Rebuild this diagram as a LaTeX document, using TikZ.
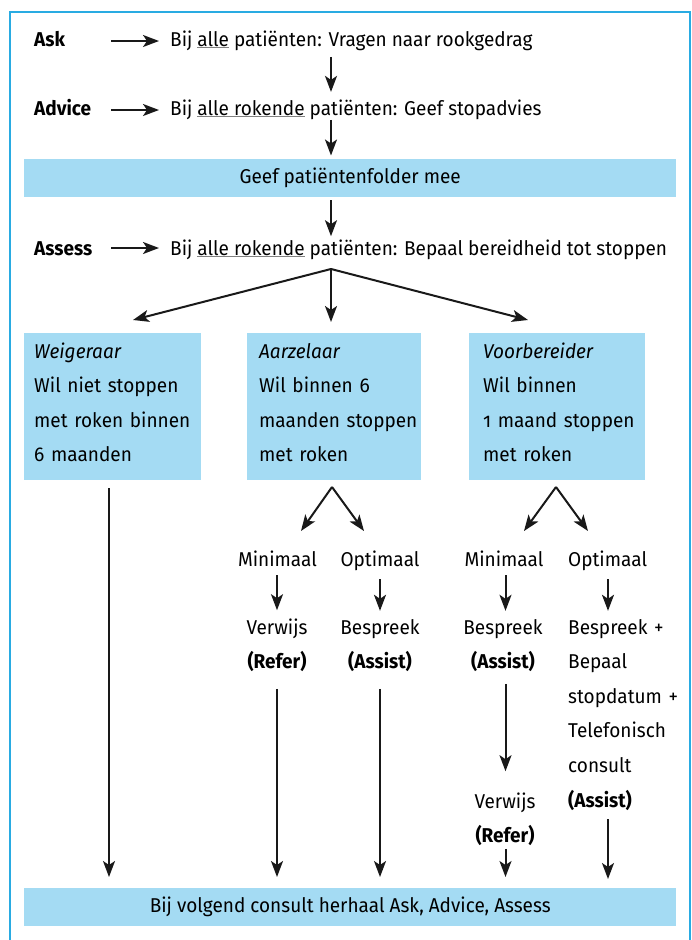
\documentclass[tikz,border=0pt]{standalone}
\usepackage{fontspec}
\setmainfont[Numbers=OldStyle, FakeStretch=0.95]{Fira Sans}
\usetikzlibrary{arrows.meta}
\definecolor{boxblue}{HTML}{A4DBF3}
\definecolor{frameblue}{HTML}{29ABE2}
\newcommand\ulx[1]{\textcolor{gray}{\underline{\textcolor{black}{#1}}}}
\begin{document}
\begin{tikzpicture}[x=1pt,y=-1pt,
  txt/.style={font=\fontsize{20}{34.6}\selectfont, inner sep=0pt},
  lbl/.style={txt, font=\fontsize{20}{34.6}\selectfont\bfseries, anchor=base west},
  line/.style={txt, anchor=base west},
  arr/.style={-{Stealth[length=16pt,width=12pt,inset=4pt]}, line width=2pt, draw=black!90},
  band/.style={txt, fill=boxblue, minimum width=652pt, minimum height=38pt, anchor=north west},
  catbox/.style={fill=boxblue, inner sep=0pt, minimum height=147pt, anchor=north west},
  boxtxt/.style={txt, anchor=base west, text width=165pt, align=left},
  pair/.style={txt, anchor=base, text width=90pt, align=center},
  word/.style={txt, anchor=base}]
\useasboundingbox (0,0) rectangle (691,940);
\draw[frameblue, line width=1.5pt] (10,940) -- (10,12) -- (690,12) -- (690,940);

% top rows
\node[lbl] (ask) at (34,46) {Ask};
\node[line] (askt) at (170,46) {Bij \ulx{alle} patiënten: Vragen naar rookgedrag};
\node[lbl] (adv) at (34,115) {Advice};
\node[line] (advt) at (170,115) {Bij \ulx{alle rokende} patiënten: Geef stopadvies};
\node[band] (folder) at (24,159) {Geef patiëntenfolder mee};
\node[lbl] (ass) at (34,255) {Assess};
\node[line] (asst) at (170,255) {Bij \ulx{alle rokende} patiënten: Bepaal bereidheid tot stoppen};

\coordinate (cx) at (331,0);
\coordinate (h1) at (111,41);
\coordinate (h2) at (111,110);
\coordinate (h3) at (111,248);
\draw[arr, shorten >=11pt] (h1) -- (h1 -| askt.west);
\draw[arr, shorten >=11pt] (h2) -- (h2 -| advt.west);
\draw[arr, shorten >=11pt] (h3) -- (h3 -| asst.west);
\draw[arr, shorten <=6.5pt, shorten >=7.3pt] (askt.south -| cx) -- (advt.north -| cx);
\draw[arr, shorten <=0.5pt, shorten >=3.5pt] (advt.south -| cx) -- (folder.north -| cx);
\draw[arr, shorten <=3pt, shorten >=3pt] (folder.south -| cx) -- (asst.north -| cx);

% category boxes
\node[catbox, minimum width=177pt] (b1) at (24,333) {};
\node[catbox, minimum width=174pt] (b2) at (247,333) {};
\node[catbox, minimum width=176pt] (b3) at (469,333) {};
\node[boxtxt] (t1) at (34,358) {\textit{Weigeraar}\\Wil niet stoppen\\met roken binnen\\6 maanden};
\node[boxtxt] (t2) at (259,358) {\textit{Aarzelaar}\\Wil binnen 6\\maanden stoppen\\met roken};
\node[boxtxt] (t3) at (483,358) {\textit{Voorbereider}\\Wil binnen\\1 maand stoppen\\met roken};

\coordinate (ap) at (331,269);
\coordinate (e1) at (133,320);
\coordinate (e2) at (331,322);
\coordinate (e3) at (528,320);
\draw[arr] (ap) -- (e1);
\draw[arr] (ap) -- (e2);
\draw[arr] (ap) -- (e3);

% forks
\coordinate (f2) at (332,487);
\coordinate (f2l) at (301,531);
\coordinate (f2r) at (364,531);
\coordinate (f3) at (556,487);
\coordinate (f3l) at (524,531);
\coordinate (f3r) at (588,531);
\draw[arr] (f2) -- (f2l);
\draw[arr] (f2) -- (f2r);
\draw[arr] (f3) -- (f3l);
\draw[arr] (f3) -- (f3r);

% options
\node[word] (m2) at (277.5,566) {Minimaal};
\node[word] (o2) at (380,566) {Optimaal};
\node[word] (m3) at (504,566) {Minimaal};
\node[line] (o3) at (568,566) {Optimaal};

\node[pair] (v2) at (277,634) {Verwijs\\\textbf{(Refer)}};
\node[pair] (p2) at (380,634) {Bespreek\\\textbf{(Assist)}};
\node[pair] (p3) at (503,634) {Bespreek\\\textbf{(Assist)}};
\node[pair] (r3) at (505,808) {Verwijs\\\textbf{(Refer)}};
\node[txt, anchor=base west, text width=115pt, align=left] (q3) at (568,634)
  {Bespreek +\\Bepaal\\stopdatum +\\Telefonisch\\consult\\\textbf{(Assist)}};

\node[band] (bot) at (24,888) {Bij volgend consult herhaal Ask, Advice, Assess};

\coordinate (x1) at (109,0);
\coordinate (x2) at (277,0);
\coordinate (x3) at (380,0);
\coordinate (x4) at (505.5,0);
\coordinate (x5) at (608,0);

\draw[arr, shorten <=9pt, shorten >=8pt] (m2.south -| x2) -- (v2.north -| x2);
\draw[arr, shorten <=9pt, shorten >=8pt] (o2.south -| x3) -- (p2.north -| x3);
\draw[arr, shorten <=9pt, shorten >=8pt] (m3.south -| x4) -- (p3.north -| x4);
\draw[arr, shorten <=9pt, shorten >=8pt] (o3.south -| x5) -- (q3.north -| x5);

\draw[arr, shorten <=8pt, shorten >=11pt] (b1.south -| x1) -- (bot.north -| x1);
\draw[arr, shorten <=17pt, shorten >=11pt] (v2.south -| x2) -- (bot.north -| x2);
\draw[arr, shorten <=17pt, shorten >=11pt] (p2.south -| x3) -- (bot.north -| x3);
\draw[arr, shorten <=12pt, shorten >=21pt] (p3.south -| x4) -- (r3.north -| x4);
\draw[arr, shorten <=3pt, shorten >=11pt] (r3.south -| x4) -- (bot.north -| x4);
\draw[arr, shorten <=9pt, shorten >=9pt] (q3.south -| x5) -- (bot.north -| x5);
\end{tikzpicture}
\end{document}
